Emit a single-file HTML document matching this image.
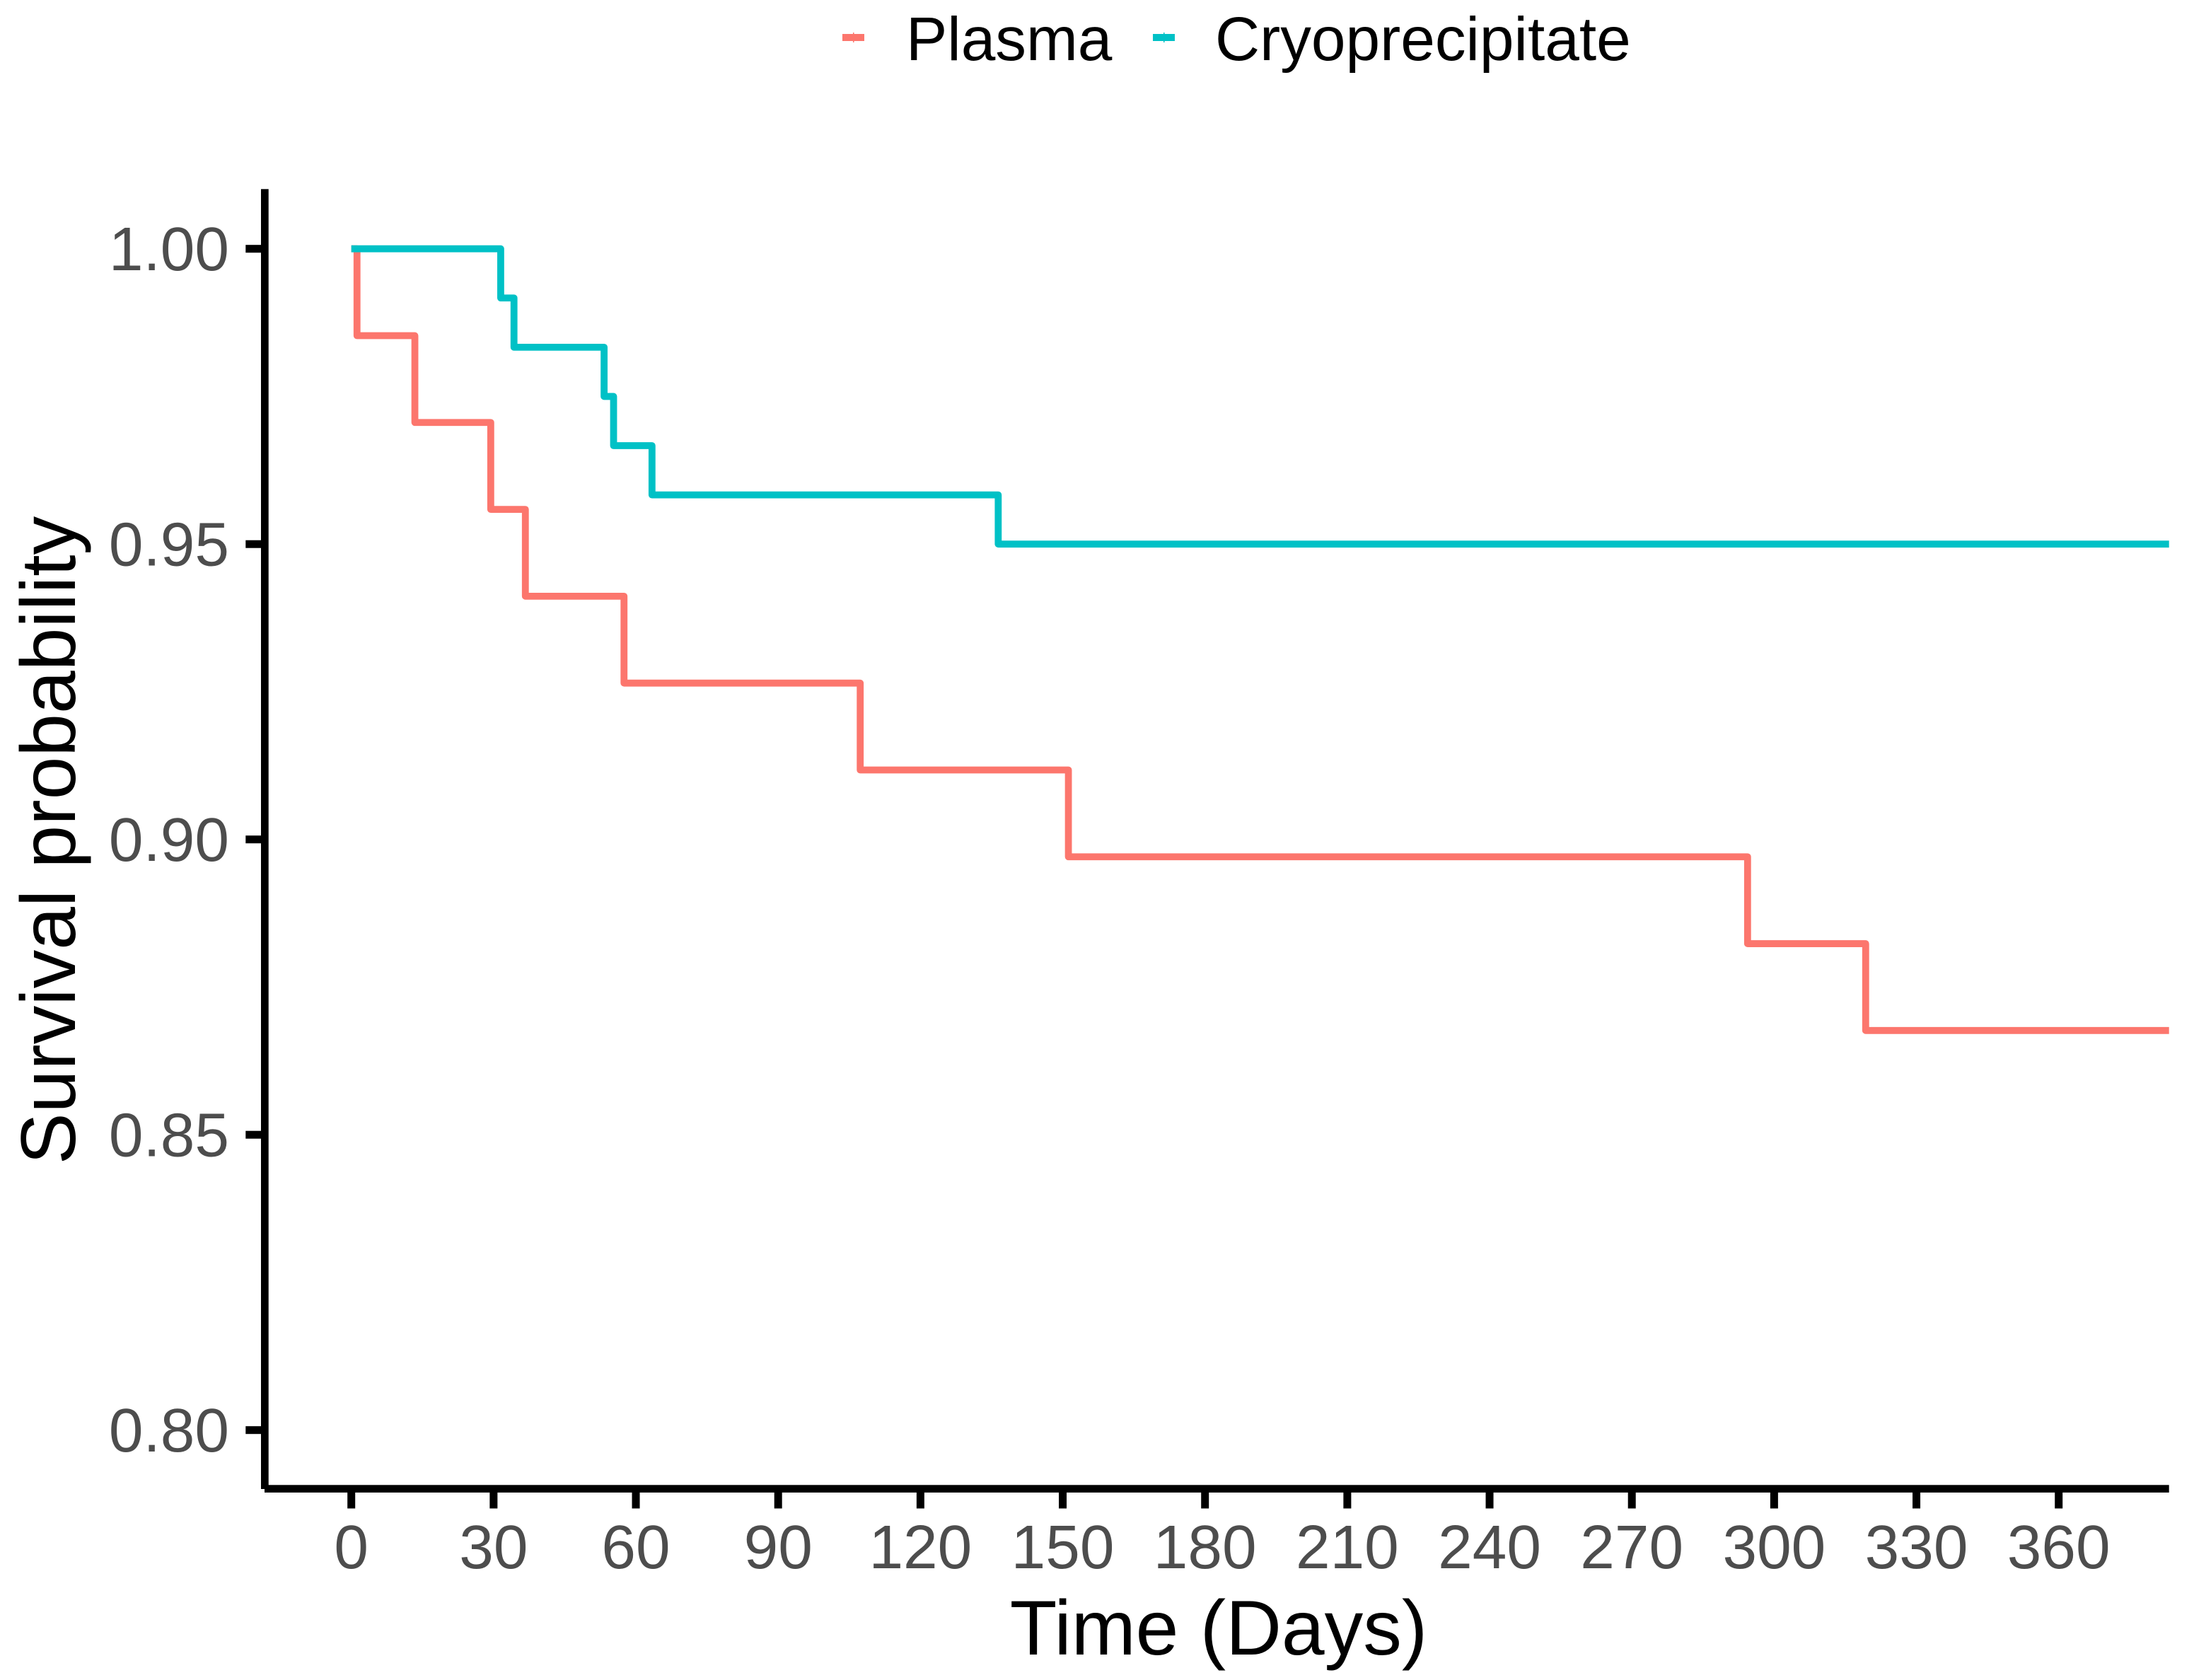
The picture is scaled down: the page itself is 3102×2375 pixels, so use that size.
<!DOCTYPE html>
<html lang="en">
<head>
<meta charset="utf-8">
<title>Survival probability: Plasma vs Cryoprecipitate</title>
<style>
  html, body { margin: 0; padding: 0; background: #fff; }
  svg { display: block; }
  text { font-family: "Liberation Sans", Arial, sans-serif; }
</style>
</head>
<body>
<svg id="chart" xmlns="http://www.w3.org/2000/svg" width="3102" height="2375" viewBox="0 0 3102 2375">
  <rect x="0" y="0" width="3102" height="2375" fill="#ffffff"/>
  <g id="series-layer"></g>
  <g id="axis-layer"></g>
  <g>
    <g>
      <rect x="1191" y="48" width="31" height="10" fill="#FC766D"/>
      <rect x="1206" y="46" width="1.5" height="14" fill="#FC766D"/>
      <text x="1281" y="85" font-size="87.4" fill="#000">Plasma</text>
    </g>
    <g>
      <rect x="1630" y="48" width="31" height="10" fill="#00C1C6"/>
      <rect x="1645" y="46" width="1.5" height="14" fill="#00C1C6"/>
      <text x="1718" y="85" font-size="87.4" fill="#000">Cryoprecipitate</text>
    </g>
  </g>
  <text x="1723" y="2339" font-size="109.2" text-anchor="middle" fill="#000">Time (Days)</text>
  <text transform="translate(106 1188) rotate(-90)" x="0" y="0" font-size="109.2" text-anchor="middle" fill="#000">Survival probability</text>
</svg>
<script>
// Data
const xTickLabels = [0, 30, 60, 90, 120, 150, 180, 210, 240, 270, 300, 330, 360];
const yTickLabels = ["0.80", "0.85", "0.90", "0.95", "1.00"];
const plasmaDays = [0, 1.2, 13.4, 29.4, 36.7, 57.5, 107.3, 151.2, 294.4, 319.3, 385];
const plasmaSurvival = [1, 0.98529, 0.97059, 0.95588, 0.94118, 0.92647, 0.91176, 0.89706, 0.88235, 0.86765, 0.86765];
const cryoDays = [0, 31.5, 34.3, 53.3, 55.3, 63.4, 136.4, 385];
const cryoSurvival = [1, 0.99167, 0.98333, 0.975, 0.96667, 0.95833, 0.95, 0.95];

const SVG_NS = "http://www.w3.org/2000/svg";
const xScale = d => 496.7 + d * 6.7056;
const yScale = s => 351.7 + (1 - s) * 8350;

function make(tag, attrs, parent, textValue) {
  const el = document.createElementNS(SVG_NS, tag);
  for (const k in attrs) el.setAttribute(k, attrs[k]);
  if (textValue !== undefined) el.textContent = textValue;
  parent.appendChild(el);
  return el;
}

// Step path: horizontal at the previous survival value, then a vertical drop.
function stepPath(days, surv) {
  let d = "M" + xScale(days[0]) + " " + yScale(surv[0]);
  for (let i = 1; i < days.length; i++) {
    d += " H" + xScale(days[i]) + " V" + yScale(surv[i]);
  }
  return d;
}

const seriesLayer = document.getElementById("series-layer");
const axisLayer = document.getElementById("axis-layer");

const plasmaLine = make("path", {
  d: stepPath(plasmaDays, plasmaSurvival), fill: "none", stroke: "#FC766D",
  "stroke-width": 9.8, "stroke-linejoin": "round", "stroke-linecap": "butt"
}, seriesLayer);



const cryoLine = make("path", {
  d: stepPath(cryoDays, cryoSurvival), fill: "none", stroke: "#00C1C6",
  "stroke-width": 9.8, "stroke-linejoin": "round", "stroke-linecap": "butt"
}, seriesLayer);



// Clip the curves to the panel area
const defs = make("defs", {}, document.getElementById("chart"));
const clip = make("clipPath", { id: "panel-clip" }, defs);
make("rect", { x: 380, y: 267, width: 2686.7, height: 1832 }, clip);
seriesLayer.setAttribute("clip-path", "url(#panel-clip)");

// Axis lines
const yAxisLine = make("rect", { x: 369, y: 267.3, width: 10.7, height: 1837.7, fill: "#000" }, axisLayer);



const xAxisLine = make("rect", { x: 374, y: 2099.3, width: 2692.7, height: 10.7, fill: "#000" }, axisLayer);



// X ticks and labels
xTickLabels.forEach(v => {
  const px = xScale(v);
  const tick = make("rect", { x: px - 5.5, y: 2110, width: 11, height: 22.5, fill: "#000" }, axisLayer);
  
  
  const label = make("text", { x: px, y: 2217, "font-size": 87.4, "text-anchor": "middle", fill: "#4D4D4D" }, axisLayer, String(v));
  
  
});

// Y ticks and labels
yTickLabels.forEach(v => {
  const py = yScale(parseFloat(v));
  const tick = make("rect", { x: 347.3, y: py - 5.5, width: 22, height: 11, fill: "#000" }, axisLayer);
  
  
  const label = make("text", { x: 324, y: py + 30.5, "font-size": 87.4, "text-anchor": "end", fill: "#4D4D4D" }, axisLayer, v);
  
  
});
</script>
</body>
</html>
